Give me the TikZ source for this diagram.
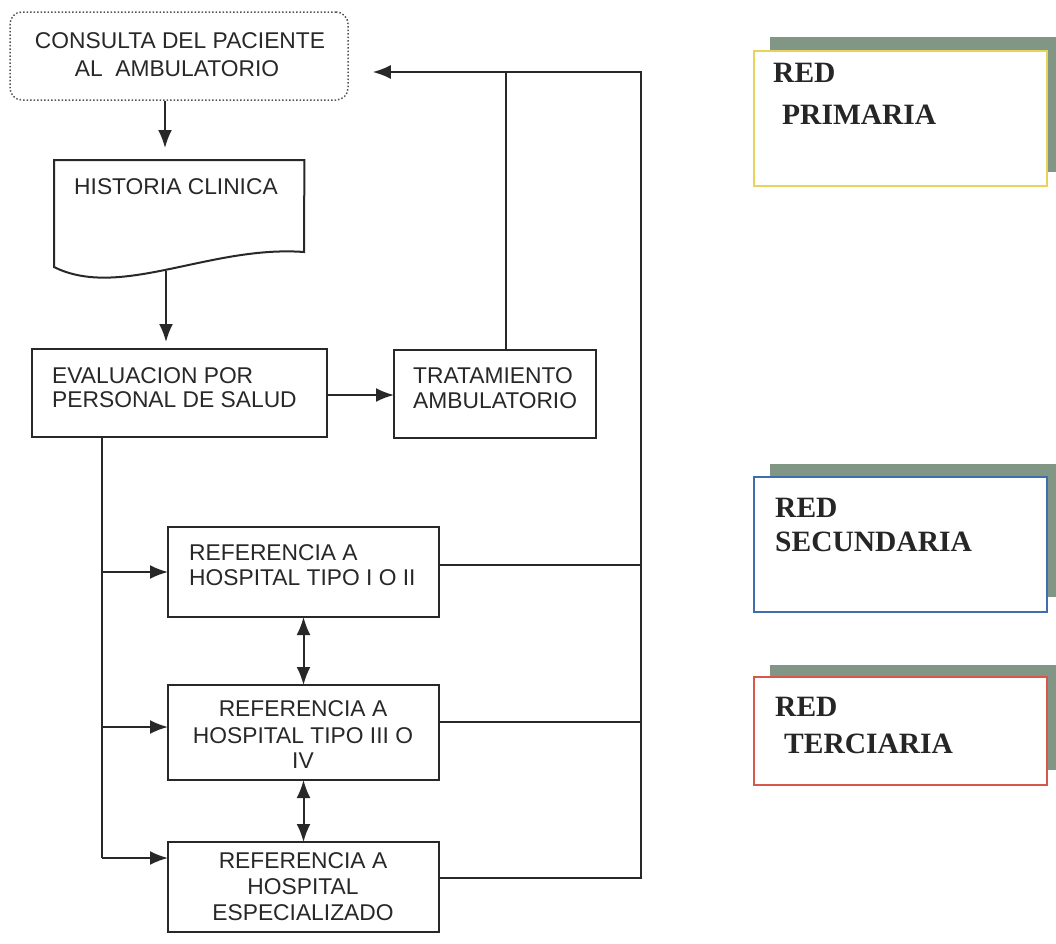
\documentclass[tikz,border=0pt]{standalone}
\usepackage{fontspec}
\newfontfamily\arialf{Liberation Sans}
\newfontfamily\tnrf{Liberation Serif}
\usetikzlibrary{arrows.meta,calc}
\definecolor{ink}{RGB}{40,40,40}
\definecolor{shadowc}{RGB}{130,150,134}
\definecolor{yelc}{RGB}{232,212,92}
\definecolor{bluc}{RGB}{62,110,172}
\definecolor{redc}{RGB}{214,88,76}
\tikzset{
  flowbox/.style={draw=ink, line width=2pt, inner sep=0pt, outer sep=0pt},
  conn/.style={draw=ink, line width=2pt},
  arr/.style={conn, -{Latex[length=18pt,width=14pt]}},
  darr/.style={conn, {Latex[length=18pt,width=14pt]}-{Latex[length=18pt,width=14pt]}},
  ltxt/.style={inner sep=0pt, text=ink, font=\arialf\fontsize{22.8}{27}\selectfont},
  rtxt/.style={inner sep=0pt, text=black!85, font=\tnrf\bfseries\fontsize{29.5}{33}\selectfont},
  redbox/.style={line width=1.6pt, fill=white, inner sep=0pt, outer sep=0pt},
  shadowbox/.style={fill=shadowc, draw=none}
}
\begin{document}
\begin{tikzpicture}[x=1pt,y=-1pt]
\useasboundingbox (0,0) rectangle (1056,943);
\fill[white] (0,0) rectangle (1056,943);

% ---- Consulta (dotted rounded box)
\node[draw=ink!80, dotted, line width=1.5pt, rounded corners=12pt,
      minimum width=338pt, minimum height=88pt, inner sep=0pt] (cons) at (179,56) {};
\node[ltxt, anchor=base] (cons1) at (180,48) {CONSULTA DEL PACIENTE};
\node[ltxt, anchor=base] (cons2) at (177,76) {AL\ \ AMBULATORIO};

% ---- Historia clinica (document shape)
\node[inner sep=0pt, minimum width=250pt, minimum height=115pt, anchor=north west] (hist) at (54,160) {};
\draw[conn] (hist.north west) -- (hist.north east) -- (304,252)
  .. controls (210,245) and (120,300) .. (54,267) -- cycle;
\node[ltxt, anchor=base west] (hist1) at (74,194) {HISTORIA CLINICA};
\coordinate (histbot) at (166,271);

% ---- Evaluacion
\node[flowbox, minimum width=295pt, minimum height=88pt] (eval) at (179.5,393) {};
\node[ltxt, anchor=base west] (eval1) at (52,383) {EVALUACION POR};
\node[ltxt, anchor=base west] (eval2) at (52,407) {PERSONAL DE SALUD};

% ---- Tratamiento
\node[flowbox, minimum width=202pt, minimum height=88pt] (trat) at (495,394) {};
\node[ltxt, anchor=base west] (trat1) at (413,383) {TRATAMIENTO};
\node[ltxt, anchor=base west] (trat2) at (413,408) {AMBULATORIO};

% ---- Referencias
\node[flowbox, minimum width=271pt, minimum height=90pt] (r1) at (303.5,572) {};
\node[ltxt, anchor=base west] (r1a) at (189,560) {REFERENCIA A};
\node[ltxt, anchor=base west] (r1b) at (189,585) {HOSPITAL TIPO I O II};

\node[flowbox, minimum width=271pt, minimum height=95pt] (r2) at (303.5,732.5) {};
\node[ltxt, anchor=base] (r2a) at (303,716) {REFERENCIA A};
\node[ltxt, anchor=base] (r2b) at (303,743) {HOSPITAL TIPO III O};
\node[ltxt, anchor=base] (r2c) at (303,768) {IV};

\node[flowbox, minimum width=271pt, minimum height=90pt] (r3) at (303.5,887) {};
\node[ltxt, anchor=base] (r3a) at (303,868) {REFERENCIA A};
\node[ltxt, anchor=base] (r3b) at (303,894) {HOSPITAL};
\node[ltxt, anchor=base] (r3c) at (303,920) {ESPECIALIZADO};

% ---- Connectors
\coordinate (ax) at (165,0);
\coordinate (lv) at (102,0);
\coordinate (rv) at (641,0);
\coordinate (topy) at (0,72);
\coordinate (tv) at (506,0);

\draw[arr] (cons.south -| ax) -- ($(hist.north -| ax)+(0,-12)$);
\draw[arr] (histbot) -- ($(eval.north -| histbot)+(0,-7)$);
\draw[arr] (eval.east |- 0,395) -- (trat.west |- 0,395);

\draw[conn] (eval.south -| lv) -- ($(r3.west -| lv)+(0,-29)$);
\draw[arr] (r1.west -| lv) -- (r1.west);
\draw[arr] ($(r2.west -| lv)+(0,-5.5)$) -- ($(r2.west)+(0,-5.5)$);
\draw[arr] ($(r3.west -| lv)+(0,-29)$) -- ($(r3.west)+(0,-29)$);

\draw[darr] (r1.south) -- (r2.north);
\draw[darr] (r2.south) -- (r3.north);

\draw[conn] ($(r1.east)+(0,-7)$) -- ($(r1.east -| rv)+(0,-7)$);
\draw[conn] ($(r2.east)+(0,-10.5)$) -- ($(r2.east -| rv)+(0,-10.5)$);
\draw[arr] ($(r3.east)+(0,-9)$) -- ($(r3.east -| rv)+(0,-9)$) -- (rv |- topy)
  -- ($(cons.east |- topy)+(24,0)$);
\draw[conn] (trat.north -| tv) -- (tv |- topy);

% ---- RED boxes
\fill[shadowc] (770,37) rectangle (1056,172);
\node[redbox, draw=yelc, minimum width=293pt, minimum height=135pt, anchor=north west] (prim) at (754,51) {};
\node[rtxt, anchor=base west] (prim1) at (773,82) {RED};
\node[rtxt, anchor=base west] (prim2) at (782,124) {PRIMARIA};

\fill[shadowc] (770,464) rectangle (1056,597);
\node[redbox, draw=bluc, minimum width=293pt, minimum height=135pt, anchor=north west] (sec) at (754,477) {};
\node[rtxt, anchor=base west] (sec1) at (775,517) {RED};
\node[rtxt, anchor=base west] (sec2) at (775,551) {SECUNDARIA};

\fill[shadowc] (770,665) rectangle (1056,770);
\node[redbox, draw=redc, minimum width=293pt, minimum height=108pt, anchor=north west] (ter) at (754,677) {};
\node[rtxt, anchor=base west] (ter1) at (775,716) {RED};
\node[rtxt, anchor=base west] (ter2) at (784,753) {TERCIARIA};
\end{tikzpicture}
\end{document}
